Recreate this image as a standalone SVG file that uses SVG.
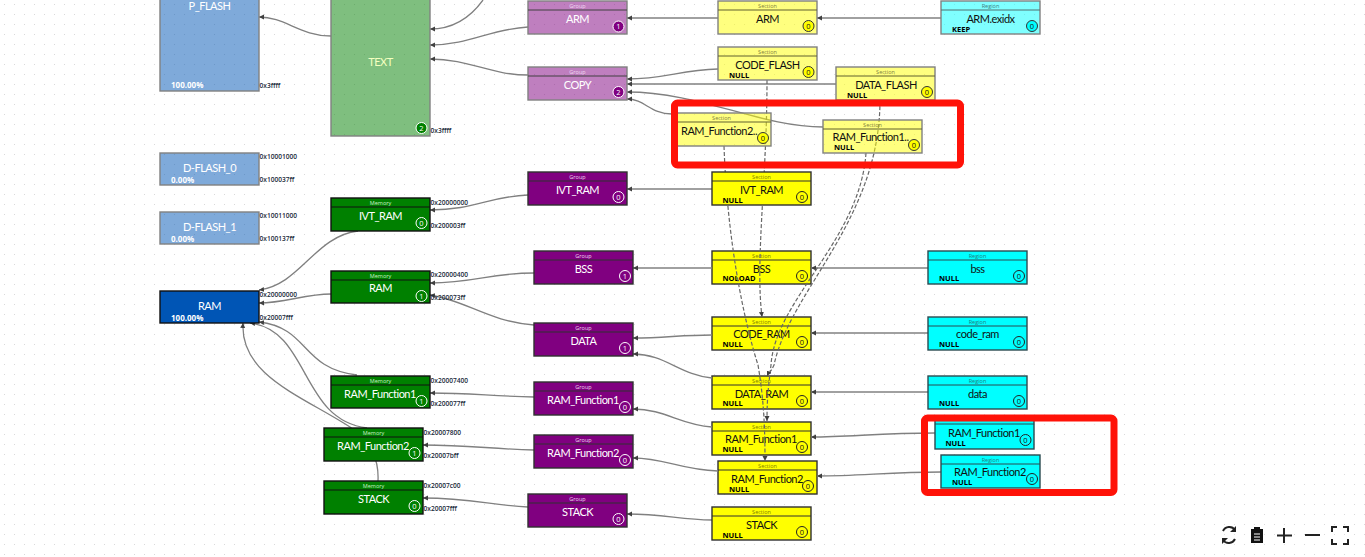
<svg xmlns="http://www.w3.org/2000/svg" width="1365" height="557" viewBox="0 0 1365 557">
<style>
text{font-family:"Open Sans","Noto Sans","Liberation Sans",sans-serif}
.n{font-family:Lato,"Open Sans",sans-serif;font-size:11px;letter-spacing:-.5px;text-anchor:middle}
.t{font-size:5.5px;text-anchor:middle}
.a{font-size:6.6px;fill:#1a2a3a;font-weight:600}
.f{font-size:7.5px;font-weight:700;fill:#000}
.p{font-size:8px;font-weight:700;fill:#fff}
.b{font-size:7.5px;text-anchor:middle}
.e{fill:none;stroke:#808080;stroke-width:1.3;marker-end:url(#ah)}
.d{fill:none;stroke:#686868;stroke-width:1.2;stroke-dasharray:4 2;marker-end:url(#ah)}
.box{stroke-width:1.4}
.sec{fill:#ffff00;stroke:#303030}.sec-p{fill:#ffff00;fill-opacity:.5;stroke:#808080}
.reg{fill:#00ffff;stroke:#2a4a50}.reg-p{fill:#00ffff;fill-opacity:.5;stroke:#808080}
.grp{fill:#800080;stroke:#303030}.grp-p{fill:#800080;fill-opacity:.5;stroke:#808080}
.mem{fill:#008000;stroke:#101010}.mem-p{fill:#008000;fill-opacity:.5;stroke:#808080}
.lay{fill:#0055b5;stroke:#101010}.lay-p{fill:#0055b5;fill-opacity:.5;stroke:#808080}
.w{fill:#fff}.k{fill:#111}.ol{fill:#808000}
.red{fill:none;stroke:#ff1208;stroke-width:7}
.ic{fill:none;stroke:#222;stroke-width:2}
circle{stroke-width:1}
</style>
<defs>
<pattern id="dots" width="10" height="10" patternUnits="userSpaceOnUse"><rect x="4" y="4" width="1" height="1" fill="#d8d8d8"/></pattern>
<marker id="ah" markerWidth="6" markerHeight="6" refX="5" refY="2.5" orient="auto" markerUnits="userSpaceOnUse"><path d="M0 0L5 2.5L0 5Z" fill="#404040"/></marker>
</defs>
<rect width="1365" height="557" fill="#fff"/>
<rect width="1365" height="557" fill="url(#dots)"/>

<g id="node-sec-bss"><rect class="box sec" x="712" y="251" width="99" height="33"/><path d="M712 260H811" stroke="#303030"/><text class="t ol" x="761.5" y="257.5">Section</text><text class="n k" x="761.5" y="273">BSS</text><text class="f" x="722.5" y="281">NOLOAD</text><circle cx="802" cy="276" r="5.5" fill="#ffff00" stroke="#222"/><text class="b k" x="802" y="278.5">0</text></g>
<g id="node-sec-code-ram"><rect class="box sec" x="712" y="317" width="99" height="33"/><path d="M712 326H811" stroke="#303030"/><text class="t ol" x="761.5" y="323.5">Section</text><text class="n k" x="761.5" y="338">CODE_RAM</text><text class="f" x="722.5" y="347">NULL</text><circle cx="802" cy="342" r="5.5" fill="#ffff00" stroke="#222"/><text class="b k" x="802" y="344.5">0</text></g>
<g id="node-sec-data-ram"><rect class="box sec" x="712" y="376" width="99" height="33"/><path d="M712 385H811" stroke="#303030"/><text class="t ol" x="761.5" y="382.5">Section</text><text class="n k" x="761.5" y="398">DATA_RAM</text><text class="f" x="722.5" y="406">NULL</text><circle cx="802" cy="401" r="5.5" fill="#ffff00" stroke="#222"/><text class="b k" x="802" y="403.5">0</text></g>
<g id="node-sec-rf1"><rect class="box sec" x="712" y="422" width="99" height="33"/><path d="M712 431H811" stroke="#303030"/><text class="t ol" x="761.5" y="428.5">Section</text><text class="n k" x="761" y="443">RAM_Function1</text><text class="f" x="722.5" y="452">NULL</text><circle cx="802" cy="447" r="5.5" fill="#ffff00" stroke="#222"/><text class="b k" x="802" y="449.5">0</text></g>
<g id="node-sec-rf2"><rect class="box sec" x="718" y="461" width="99" height="33"/><path d="M718 470H817" stroke="#303030"/><text class="t ol" x="767.5" y="467.5">Section</text><text class="n k" x="767" y="483">RAM_Function2</text><text class="f" x="729" y="492">NULL</text><circle cx="808" cy="486" r="5.5" fill="#ffff00" stroke="#222"/><text class="b k" x="808" y="488.5">0</text></g>

<g id="connectors">
<path class="e" d="M331 36C300 36 285 17 259 17"/>
<path class="e" d="M483 0C470 18 452 29 430 29"/>
<path class="e" d="M528 27C490 29 470 45 430 45"/>
<path class="e" d="M528 75C490 75 470 59 430 59"/>
<path class="e" d="M718 18H627"/>
<path class="e" d="M941 18H817"/>
<path class="e" d="M718 69C680 70 665 79 627 79"/>
<path class="e" d="M836 84H627"/>
<path class="e" d="M823 127C760 127 700 92 627 92"/>
<path class="e" d="M672 114C650 114 645 99 627 99"/>
<path class="e" d="M528 195C490 196 475 210 430 210"/>
<path class="e" d="M712 189H627"/>
<path class="e" d="M712 268H633"/>
<path class="e" d="M928 268H811"/>
<path class="e" d="M534 273C490 273 475 283 430 283"/>
<path class="e" d="M534 325C490 322 465 300 430 295"/>
<path class="e" d="M712 335C680 335 665 338 633 338"/>
<path class="e" d="M928 333H811"/>
<path class="e" d="M712 378C680 375 665 354 633 354"/>
<path class="e" d="M928 392H811"/>
<path class="e" d="M534 397C490 396 470 393 430 393"/>
<path class="e" d="M712 427C680 425 665 409 633 409"/>
<path class="e" d="M935 433C880 433 850 437 811 437"/>
<path class="e" d="M718 471C680 470 665 458 633 458"/>
<path class="e" d="M941 472C890 472 860 476 817 476"/>
<path class="e" d="M534 450C490 449 470 445 423 445"/>
<path class="e" d="M528 507C490 505 470 498 423 498"/>
<path class="e" d="M712 520C680 520 665 514 627 514"/>
<path class="e" d="M358 231C315 236 300 285 259 290"/>
<path class="e" d="M331 294C305 294 285 303 259 303"/>
<path class="e" d="M357 375C300 368 310 328 259 322"/>
<path class="e" d="M367 428C300 420 310 330 250 323"/>
<path class="e" d="M378 481C379 460 372 443 350 427C300 395 240 375 243 323"/>
<path class="d" d="M767 80C767 180 755 260 762 317"/>
<path class="d" d="M724 146C728 260 750 340 758 365C764 400 765 430 765 461"/>
<path class="d" d="M866 153C860 240 775 300 771 365C768 390 767 400 767 421"/>
<path class="d" d="M880 100C880 220 790 290 774 365C771 372 769 372 767 376"/>
</g>

<g id="node-p-flash"><rect class="box lay-p" x="160" y="-50" width="99" height="141"/><text class="n w" x="209.5" y="10">P_FLASH</text><text class="p" x="171" y="88">100.00%</text><text class="a" x="259.5" y="88">0x3ffff</text></g>
<g id="node-d-flash-0"><rect class="box lay-p" x="160" y="153" width="99" height="32"/><text class="n w" x="209.5" y="172">D-FLASH_0</text><text class="p" x="171" y="183">0.00%</text><text class="a" x="259.5" y="159">0x10001000</text><text class="a" x="259.5" y="182">0x100037ff</text></g>
<g id="node-d-flash-1"><rect class="box lay-p" x="160" y="212" width="99" height="32"/><text class="n w" x="209.5" y="231">D-FLASH_1</text><text class="p" x="171" y="242">0.00%</text><text class="a" x="259.5" y="218">0x10011000</text><text class="a" x="259.5" y="241">0x100137ff</text></g>
<g id="node-ram"><rect class="box lay" x="160" y="291" width="99" height="32"/><text class="n w" x="209.5" y="310">RAM</text><text class="p" x="171" y="321">100.00%</text><text class="a" x="259.5" y="297">0x20000000</text><text class="a" x="259.5" y="320">0x20007fff</text></g>

<g id="node-mem-text"><rect class="box mem-p" x="331" y="-50" width="99" height="186"/><text class="n" fill="#f4ffc0" x="380.5" y="66">TEXT</text><circle cx="421.5" cy="128" r="5.5" fill="#008000" stroke="#fff"/><text class="b w" x="421.5" y="130.5">2</text><text class="a" x="430.5" y="133">0x3ffff</text></g>
<g id="node-mem-ivt"><rect class="box mem" x="331" y="198" width="99" height="33"/><path d="M331 207H430" stroke="#101010"/><text class="t" fill="#c8f0c8" x="380.5" y="204.5">Memory</text><text class="n w" x="380.5" y="220">IVT_RAM</text><circle cx="421.5" cy="223" r="5.5" fill="#008000" stroke="#fff"/><text class="b w" x="421.5" y="225.5">0</text><text class="a" x="430.5" y="205">0x20000000</text><text class="a" x="430.5" y="228">0x200003ff</text></g>
<g id="node-mem-ram"><rect class="box mem" x="331" y="271" width="99" height="32"/><path d="M331 280H430" stroke="#101010"/><text class="t" fill="#c8f0c8" x="380.5" y="277.5">Memory</text><text class="n w" x="380.5" y="292">RAM</text><circle cx="421.5" cy="296" r="5.5" fill="#008000" stroke="#fff"/><text class="b w" x="421.5" y="298.5">1</text><text class="a" x="430.5" y="277">0x20000400</text><text class="a" x="430.5" y="300">0x200073ff</text></g>
<g id="node-mem-rf1"><rect class="box mem" x="331" y="376" width="99" height="32"/><path d="M331 385H430" stroke="#101010"/><text class="t" fill="#c8f0c8" x="380.5" y="382.5">Memory</text><text class="n w" x="380" y="398">RAM_Function1</text><circle cx="421.5" cy="401" r="5.5" fill="#008000" stroke="#fff"/><text class="b w" x="421.5" y="403.5">1</text><text class="a" x="430.5" y="383">0x20007400</text><text class="a" x="430.5" y="406">0x200077ff</text></g>
<g id="node-mem-rf2"><rect class="box mem" x="324" y="428" width="99" height="33"/><path d="M324 437H423" stroke="#101010"/><text class="t" fill="#c8f0c8" x="373.5" y="434.5">Memory</text><text class="n w" x="373" y="450">RAM_Function2</text><circle cx="414.5" cy="453" r="5.5" fill="#008000" stroke="#fff"/><text class="b w" x="414.5" y="455.5">1</text><text class="a" x="423.5" y="435">0x20007800</text><text class="a" x="423.5" y="458">0x20007bff</text></g>
<g id="node-mem-stack"><rect class="box mem" x="324" y="481" width="99" height="33"/><path d="M324 490H423" stroke="#101010"/><text class="t" fill="#c8f0c8" x="373.5" y="487.5">Memory</text><text class="n w" x="373.5" y="503">STACK</text><circle cx="414.5" cy="506" r="5.5" fill="#008000" stroke="#fff"/><text class="b w" x="414.5" y="508.5">0</text><text class="a" x="423.5" y="488">0x20007c00</text><text class="a" x="423.5" y="511">0x20007fff</text></g>

<g id="node-grp-arm"><rect class="box grp-p" x="528" y="1" width="99" height="33"/><path d="M528 10H627" stroke="#404040"/><text class="t" fill="#f0d8f0" x="577.5" y="7.5">Group</text><text class="n w" x="577.5" y="23">ARM</text><circle cx="618.5" cy="26.5" r="5.5" fill="#800080" stroke="#fff"/><text class="b w" x="618.5" y="29">1</text></g>
<g id="node-grp-copy"><rect class="box grp-p" x="528" y="67" width="99" height="33"/><path d="M528 76H627" stroke="#404040"/><text class="t" fill="#f0d8f0" x="577.5" y="73.5">Group</text><text class="n w" x="577.5" y="89">COPY</text><circle cx="618.5" cy="92" r="5.5" fill="#800080" stroke="#fff"/><text class="b w" x="618.5" y="94.5">2</text></g>
<g id="node-grp-ivt"><rect class="box grp" x="528" y="172" width="99" height="33"/><path d="M528 181H627" stroke="#303030"/><text class="t" fill="#f0d8f0" x="577.5" y="178.5">Group</text><text class="n w" x="577.5" y="194">IVT_RAM</text><circle cx="618.5" cy="197" r="5.5" fill="#800080" stroke="#fff"/><text class="b w" x="618.5" y="199.5">0</text></g>
<g id="node-grp-bss"><rect class="box grp" x="534" y="251" width="99" height="33"/><path d="M534 260H633" stroke="#303030"/><text class="t" fill="#f0d8f0" x="583.5" y="257.5">Group</text><text class="n w" x="583.5" y="273">BSS</text><circle cx="625" cy="276" r="5.5" fill="#800080" stroke="#fff"/><text class="b w" x="625" y="278.5">1</text></g>
<g id="node-grp-data"><rect class="box grp" x="534" y="323" width="99" height="33"/><path d="M534 332H633" stroke="#303030"/><text class="t" fill="#f0d8f0" x="583.5" y="329.5">Group</text><text class="n w" x="583.5" y="345">DATA</text><circle cx="625" cy="348" r="5.5" fill="#800080" stroke="#fff"/><text class="b w" x="625" y="350.5">1</text></g>
<g id="node-grp-rf1"><rect class="box grp" x="534" y="382" width="99" height="33"/><path d="M534 391H633" stroke="#303030"/><text class="t" fill="#f0d8f0" x="583.5" y="388.5">Group</text><text class="n w" x="583" y="404">RAM_Function1</text><circle cx="625" cy="407" r="5.5" fill="#800080" stroke="#fff"/><text class="b w" x="625" y="409.5">0</text></g>
<g id="node-grp-rf2"><rect class="box grp" x="534" y="435" width="99" height="33"/><path d="M534 444H633" stroke="#303030"/><text class="t" fill="#f0d8f0" x="583.5" y="441.5">Group</text><text class="n w" x="583" y="457">RAM_Function2</text><circle cx="625" cy="460" r="5.5" fill="#800080" stroke="#fff"/><text class="b w" x="625" y="462.5">0</text></g>
<g id="node-grp-stack"><rect class="box grp" x="528" y="494" width="99" height="33"/><path d="M528 503H627" stroke="#303030"/><text class="t" fill="#f0d8f0" x="577.5" y="500.5">Group</text><text class="n w" x="577.5" y="516">STACK</text><circle cx="618.5" cy="519" r="5.5" fill="#800080" stroke="#fff"/><text class="b w" x="618.5" y="521.5">0</text></g>

<g id="node-sec-arm"><rect class="box sec-p" x="718" y="1" width="99" height="33"/><path d="M718 10H817" stroke="#606030"/><text class="t" fill="#808040" x="767.5" y="7.5">Section</text><text class="n k" x="767.5" y="23">ARM</text><circle cx="808.5" cy="26" r="5.5" fill="#ffff00" stroke="#333"/><text class="b k" x="808.5" y="28.5">0</text></g>
<g id="node-sec-code-flash"><rect class="box sec-p" x="718" y="47" width="99" height="33"/><path d="M718 56H817" stroke="#606030"/><text class="t" fill="#808040" x="767.5" y="53.5">Section</text><text class="n k" x="767.5" y="69">CODE_FLASH</text><text class="f" x="729" y="78">NULL</text><circle cx="808.5" cy="72" r="5.5" fill="#ffff00" stroke="#333"/><text class="b k" x="808.5" y="74.5">0</text></g>
<g id="node-sec-data-flash"><rect class="box sec-p" x="836" y="67" width="99" height="33"/><path d="M836 76H935" stroke="#606030"/><text class="t" fill="#808040" x="885.5" y="73.5">Section</text><text class="n k" x="886" y="89">DATA_FLASH</text><text class="f" x="847" y="98">NULL</text><circle cx="927" cy="92" r="5.5" fill="#ffff00" stroke="#333"/><text class="b k" x="927" y="94.5">0</text></g>
<g id="node-sec-rf2-copy"><rect class="box sec-p" x="672" y="113" width="99" height="33"/><path d="M672 122H771" stroke="#606030"/><text class="t" fill="#808040" x="721.5" y="119.5">Section</text><text class="n k" x="719" y="135">RAM_Function2..</text><circle cx="763" cy="138" r="5.5" fill="#ffff00" stroke="#333"/><text class="b k" x="763" y="140.5">0</text></g>
<g id="node-sec-rf1-copy"><rect class="box sec-p" x="823" y="120" width="99" height="33"/><path d="M823 129H922" stroke="#606030"/><text class="t" fill="#808040" x="872.5" y="126.5">Section</text><text class="n k" x="870.5" y="141">RAM_Function1..</text><text class="f" x="834" y="150">NULL</text><circle cx="914" cy="145" r="5.5" fill="#ffff00" stroke="#333"/><text class="b k" x="914" y="147.5">0</text></g>
<g id="node-sec-ivt"><rect class="box sec" x="712" y="172" width="99" height="33"/><path d="M712 181H811" stroke="#303030"/><text class="t ol" x="761.5" y="178.5">Section</text><text class="n k" x="761.5" y="194">IVT_RAM</text><text class="f" x="722.5" y="203">NULL</text><circle cx="802" cy="197" r="5.5" fill="#ffff00" stroke="#222"/><text class="b k" x="802" y="199.5">0</text></g>
<g id="node-sec-stack"><rect class="box sec" x="712" y="507" width="99" height="33"/><path d="M712 516H811" stroke="#303030"/><text class="t ol" x="761.5" y="513.5">Section</text><text class="n k" x="761.5" y="529">STACK</text><text class="f" x="722.5" y="538">NULL</text><circle cx="802" cy="532" r="5.5" fill="#ffff00" stroke="#222"/><text class="b k" x="802" y="534.5">0</text></g>

<g id="node-reg-arm"><rect class="box reg-p" x="941" y="1" width="99" height="33"/><path d="M941 10H1040" stroke="#507070"/><text class="t" fill="#408080" x="990.5" y="7.5">Region</text><text class="n k" x="990.5" y="23">ARM.exidx</text><text class="f" x="952" y="32">KEEP</text><circle cx="1032" cy="26" r="5.5" fill="#00ffff" stroke="#333"/><text class="b k" x="1032" y="28.5">0</text></g>
<g id="node-reg-bss"><rect class="box reg" x="928" y="251" width="99" height="33"/><path d="M928 260H1027" stroke="#2a4a50"/><text class="t" fill="#208080" x="977.5" y="257.5">Region</text><text class="n k" x="977.5" y="273">bss</text><text class="f" x="939" y="281">NULL</text><circle cx="1019" cy="276" r="5.5" fill="#00ffff" stroke="#222"/><text class="b k" x="1019" y="278.5">0</text></g>
<g id="node-reg-code-ram"><rect class="box reg" x="928" y="317" width="99" height="33"/><path d="M928 326H1027" stroke="#2a4a50"/><text class="t" fill="#208080" x="977.5" y="323.5">Region</text><text class="n k" x="977.5" y="338">code_ram</text><text class="f" x="939" y="347">NULL</text><circle cx="1019" cy="342" r="5.5" fill="#00ffff" stroke="#222"/><text class="b k" x="1019" y="344.5">0</text></g>
<g id="node-reg-data"><rect class="box reg" x="928" y="376" width="99" height="33"/><path d="M928 385H1027" stroke="#2a4a50"/><text class="t" fill="#208080" x="977.5" y="382.5">Region</text><text class="n k" x="977.5" y="398">data</text><text class="f" x="939" y="406">NULL</text><circle cx="1019" cy="401" r="5.5" fill="#00ffff" stroke="#222"/><text class="b k" x="1019" y="403.5">0</text></g>
<g id="node-reg-rf1"><rect class="box reg" x="935" y="416" width="99" height="33"/><path d="M935 424H1034" stroke="#2a4a50"/><text class="n k" x="984" y="437">RAM_Function1</text><text class="f" x="945.5" y="446">NULL</text><circle cx="1025.5" cy="440" r="5.5" fill="#00ffff" stroke="#222"/><text class="b k" x="1025.5" y="442.5">0</text></g>
<g id="node-reg-rf2"><rect class="box reg" x="941" y="455" width="99" height="33"/><path d="M941 464H1040" stroke="#2a4a50"/><text class="t" fill="#208080" x="990.5" y="461.5">Region</text><text class="n k" x="990" y="476">RAM_Function2</text><text class="f" x="952" y="485">NULL</text><circle cx="1032" cy="479" r="5.5" fill="#00ffff" stroke="#222"/><text class="b k" x="1032" y="481.5">0</text></g>

<rect class="red" x="674.5" y="103" width="286" height="62" rx="3"/>
<rect class="red" x="924.5" y="418" width="189.5" height="74.5" rx="3"/>

<g id="toolbar">
<path class="ic" d="M1223 531A7 7 0 0 1 1235 530M1235 539A7 7 0 0 1 1223 540"/>
<path d="M1236 526V532H1230ZM1222 544V538H1228Z" fill="#222"/>
<path d="M1251 529H1254V527H1260V529H1263V543H1251Z" fill="#111"/>
<path d="M1254 534H1260M1254 537H1260M1254 540H1260" stroke="#fff" stroke-width="1"/>
<path class="ic" d="M1284 528V543M1277 535.5H1292M1305 535H1320"/>
<path class="ic" d="M1332 532V527H1337M1343 527H1348V532M1348 539V544H1343M1337 544H1332V539"/>
</g>
</svg>
